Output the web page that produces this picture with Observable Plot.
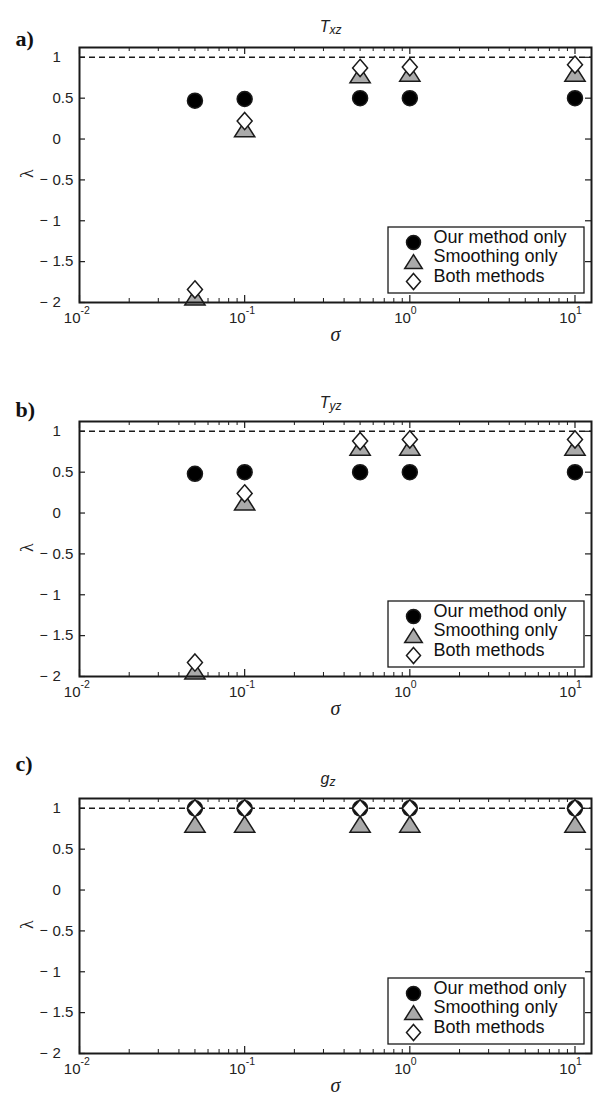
<!DOCTYPE html>
<html><head><meta charset="utf-8">
<script src="https://cdn.jsdelivr.net/npm/d3@7"></script>
<script src="https://cdn.jsdelivr.net/npm/@observablehq/plot@0.6"></script>
<style>
body{margin:0;background:#fff;}
#wrap{position:relative;width:597px;height:1098px;overflow:hidden;background:#fff;}
.panel{position:absolute;left:0;}
</style></head><body><div id="wrap"></div>
<script>
// ---- data ----
const sigma = [0.05, 0.1, 0.5, 1, 10];
const txzOur = [0.47, 0.49, 0.5, 0.5, 0.5];
const txzSmooth = [-1.94, 0.12, 0.78, 0.8, 0.8];
const txzBoth = [-1.84, 0.22, 0.87, 0.88, 0.91];
const tyzOur = [0.48, 0.5, 0.5, 0.5, 0.5];
const tyzSmooth = [-1.94, 0.13, 0.8, 0.8, 0.8];
const tyzBoth = [-1.83, 0.24, 0.88, 0.9, 0.9];
const gzOur = [1, 1, 1, 1, 1];
const gzSmooth = [0.8, 0.8, 0.8, 0.8, 0.8];
const gzBoth = [1, 1, 1, 1, 1];
const panelLetters = ["a)", "b)", "c)"];
const titleMain = ["T", "T", "g"];
const titleSub = ["xz", "yz", "z"];
const seriesNames = ["Our method only", "Smoothing only", "Both methods"];
const yTicks = [1, 0.5, 0, -0.5, -1, -1.5, -2];
const xMajor = [0.01, 0.1, 1, 10];
const xExp = ["-2", "-1", "0", "1"];
const xMinor = [0.02,0.03,0.04,0.05,0.06,0.07,0.08,0.09,0.2,0.3,0.4,0.5,0.6,0.7,0.8,0.9,2,3,4,5,6,7,8,9];
const refLine = [1];

// ---- layout ----
const W = 597, ML = 79, MR = 6, MT = 47, MB = 46, FH = 255;
const H = MT + FH + MB;
const FW = W - ML - MR;
const panelTops = [0, 374, 751];
const titleDy = [-27, -25, -26];
const letterDy = [-17, -20, -43];
const ink = "#1a1a1a";
const sans = "Liberation Sans, Arial, Helvetica, sans-serif";

const triSym = {draw(ctx, size){const r=Math.sqrt(size/Math.PI);ctx.moveTo(0,-1.12*r);ctx.lineTo(1.35*r,1.0*r);ctx.lineTo(-1.35*r,1.0*r);ctx.closePath();}};
const diaSym = {draw(ctx, size){const r=Math.sqrt(size/Math.PI);ctx.moveTo(0,-1.15*r);ctx.lineTo(r,0);ctx.lineTo(0,1.15*r);ctx.lineTo(-r,0);ctx.closePath();}};

const panels = [
  [txzOur, txzSmooth, txzBoth],
  [tyzOur, tyzSmooth, tyzBoth],
  [gzOur, gzSmooth, gzBoth]
];

const styles = [
  {symbol: "circle", fill: "#000", r: 7.5},
  {symbol: triSym, fill: "#aaaaaa", r: 7.5},
  {symbol: diaSym, fill: "#fff", r: 7.5}
];

const LBW = 196, LBH = 66, LBR = 7, LBB = 9;
function legendBox(index, scales, values, dims) {
  const right = dims.width - dims.marginRight - LBR;
  const bottom = dims.height - dims.marginBottom - LBB;
  return d3.create("svg:rect")
    .attr("x", right - LBW).attr("y", bottom - LBH)
    .attr("width", LBW).attr("height", LBH)
    .attr("fill", "#fff").attr("stroke", ink).attr("stroke-width", 1.3).node();
}

const wrap = document.getElementById("wrap");
panels.forEach((series, p) => {
  const marks = [];
  marks.push(Plot.ruleY(refLine, {stroke: ink, strokeWidth: 1.5, strokeDasharray: "6,4"}));
  marks.push(Plot.tickX(xMinor, {x: d => d, stroke: ink, strokeWidth: 1, insetTop: FH - 4}));
  marks.push(Plot.tickX(xMinor, {x: d => d, stroke: ink, strokeWidth: 1, insetBottom: FH - 4}));
  marks.push(Plot.tickX(xMajor, {x: d => d, stroke: ink, strokeWidth: 1.2, insetTop: FH - 7}));
  marks.push(Plot.tickX(xMajor, {x: d => d, stroke: ink, strokeWidth: 1.2, insetBottom: FH - 7}));
  marks.push(Plot.tickY(yTicks, {y: d => d, stroke: ink, strokeWidth: 1.2, insetRight: FW - 6}));
  marks.push(Plot.tickY(yTicks, {y: d => d, stroke: ink, strokeWidth: 1.2, insetLeft: FW - 6}));
  series.forEach((vals, s) => {
    const rows = sigma.map((x, i) => ({x, y: vals[i]}));
    marks.push(Plot.dot(rows, {x: "x", y: "y", r: styles[s].r, symbol: styles[s].symbol,
      fill: styles[s].fill, stroke: ink, strokeWidth: 1.5}));
  });
  marks.push(legendBox);
  const rowDy = [-60, -40.5, -21];
  seriesNames.forEach((name, s) => {
    marks.push(Plot.dot([name], {frameAnchor: "bottom-right", dx: -178, dy: rowDy[s],
      r: s === 1 ? 6.5 : 7, symbol: styles[s].symbol, fill: styles[s].fill, stroke: ink, strokeWidth: 1.5}));
    marks.push(Plot.text([name], {frameAnchor: "bottom-right", dx: -158, dy: rowDy[s], text: d => d,
      textAnchor: "start", fontSize: 18, fill: "#111", fontFamily: sans}));
  });
  marks.push(Plot.text(yTicks, {y: d => d, frameAnchor: "left", dx: -27, textAnchor: "start",
    text: d => String(Math.abs(d)), fontSize: 15, fill: "#222", fontFamily: sans}));
  marks.push(Plot.text(yTicks.filter(d => d < 0), {y: d => d, frameAnchor: "left", dx: -40, textAnchor: "start",
    text: () => "\u2212", fontSize: 14, fill: "#222", fontFamily: sans}));
  marks.push(Plot.text(xMajor, {x: d => d, frameAnchor: "bottom", dy: 20, dx: 1, textAnchor: "end",
    text: () => "10", fontSize: 15, fill: "#222", fontFamily: sans}));
  marks.push(Plot.text(xMajor, {x: d => d, frameAnchor: "bottom", dy: 11, dx: 1, textAnchor: "start",
    text: (d, i) => xExp[i], fontSize: 10.5, fill: "#222", fontFamily: sans}));
  marks.push(Plot.text(["σ"], {frameAnchor: "bottom", dy: 38, text: d => d, fontSize: 20,
    fontStyle: "italic", fill: "#222", fontFamily: "Liberation Serif, Times New Roman, serif"}));
  marks.push(Plot.text(["λ"], {frameAnchor: "left", dx: -52, dy: 3, rotate: -90, text: d => d, fontSize: 18,
    fill: "#222", fontFamily: "Liberation Serif, Times New Roman, serif"}));
  marks.push(Plot.text([titleMain[p]], {frameAnchor: "top", dy: titleDy[p], dx: -6, textAnchor: "end",
    text: d => d, fontSize: 16, fontStyle: "italic", fill: "#222", fontFamily: sans}));
  marks.push(Plot.text([titleSub[p]], {frameAnchor: "top", dy: titleDy[p] + 5, dx: -6, textAnchor: "start",
    text: d => d, fontSize: 12, fontStyle: "italic", fill: "#222", fontFamily: sans}));
  marks.push(Plot.text([panelLetters[p]], {frameAnchor: "top-left", dx: -64, dy: letterDy[p], textAnchor: "start",
    text: d => d, fontSize: 22, fontWeight: "bold", fill: "#111", fontFamily: "Liberation Serif, Times New Roman, serif"}));
  marks.push(Plot.frame({stroke: ink, strokeWidth: 2}));

  const chart = Plot.plot({
    width: W, height: H,
    marginLeft: ML, marginRight: MR, marginTop: MT, marginBottom: MB,
    x: {type: "log", domain: [0.01, Math.pow(10, 1.1)], axis: null},
    y: {domain: [-2, 1.12], axis: null},
    style: {fontFamily: sans, fontSize: "15px", background: "transparent", overflow: "visible"},
    marks
  });
  const div = document.createElement("div");
  div.className = "panel";
  div.style.top = panelTops[p] + "px";
  div.appendChild(chart);
  wrap.appendChild(div);
});
</script>
</body></html>
